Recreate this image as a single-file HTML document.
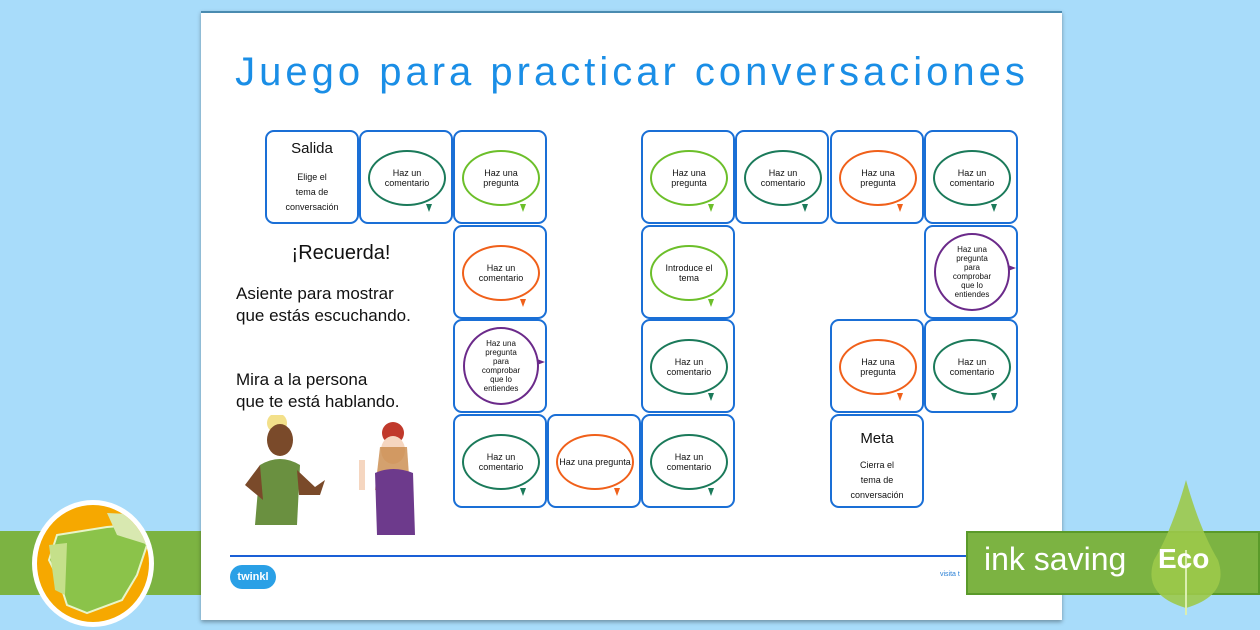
<!DOCTYPE html>
<html><head><meta charset="utf-8"><style>
*{margin:0;padding:0;box-sizing:border-box}
body{width:1260px;height:630px;background:#a8dcfa;position:relative;overflow:hidden;font-family:"Liberation Sans",sans-serif}
.band{position:absolute;left:0;top:531px;width:1260px;height:64px;background:#7cb342}
.paper{position:absolute;left:201px;top:11px;width:861px;height:609px;background:#fff;box-shadow:0 2px 4px rgba(0,0,0,.35);border-top:2px solid #4a8bb0}
.title{position:absolute;left:212px;top:50px;width:840px;text-align:center;color:#1a8ee6;font-size:40px;white-space:nowrap;letter-spacing:4px}
.cell{position:absolute;width:94px;height:94px;border:2px solid #1a6fd6;border-radius:9px;background:#fff}
.bub{position:absolute;left:7px;top:18px;width:78px;height:56px;border:2px solid;border-radius:50%;display:flex;align-items:center;justify-content:center;text-align:center;font-size:9px;line-height:10px;color:#111;background:#fff}
.bub::after{content:"";position:absolute;right:12px;bottom:-8px;width:0;height:0;border-left:3px solid transparent;border-right:3px solid transparent;border-top:8px solid;border-top-color:inherit}
.bub.tall{left:8px;top:6px;width:76px;height:78px;font-size:8px;line-height:9px}
.bub.tall::after{right:-8px;bottom:38px;border:none;border-top:3px solid transparent;border-bottom:3px solid transparent;border-left:8px solid;border-left-color:inherit}
.t{position:absolute;color:#111;text-align:center}
.dg{border-color:#1b7a5a}.lg{border-color:#6cbf2a}.or{border-color:#f0601a}.pu{border-color:#6b2a8a}
</style></head><body>
<div class="band"></div>
<div class="paper"></div>
<div class="title">Juego para practicar conversaciones</div>

<div class="cell" style="left:265px;top:130px"><div class="t" style="left:0;width:90px;top:8px;font-size:15px">Salida</div><div class="t" style="left:0;width:90px;top:38px;font-size:9px;line-height:15px">Elige el<br>tema de<br>conversación</div></div>
<div class="cell" style="left:359px;top:130px"><div class="bub dg">Haz un<br>comentario</div></div>
<div class="cell" style="left:453px;top:130px"><div class="bub lg">Haz una<br>pregunta</div></div>
<div class="cell" style="left:641px;top:130px"><div class="bub lg">Haz una<br>pregunta</div></div>
<div class="cell" style="left:735px;top:130px"><div class="bub dg">Haz un<br>comentario</div></div>
<div class="cell" style="left:830px;top:130px"><div class="bub or">Haz una<br>pregunta</div></div>
<div class="cell" style="left:924px;top:130px"><div class="bub dg">Haz un<br>comentario</div></div>
<div class="cell" style="left:453px;top:225px"><div class="bub or">Haz un<br>comentario</div></div>
<div class="cell" style="left:641px;top:225px"><div class="bub lg">Introduce el<br>tema</div></div>
<div class="cell" style="left:924px;top:225px"><div class="bub tall pu">Haz una<br>pregunta<br>para<br>comprobar<br>que lo<br>entiendes</div></div>
<div class="cell" style="left:453px;top:319px"><div class="bub tall pu">Haz una<br>pregunta<br>para<br>comprobar<br>que lo<br>entiendes</div></div>
<div class="cell" style="left:641px;top:319px"><div class="bub dg">Haz un<br>comentario</div></div>
<div class="cell" style="left:830px;top:319px"><div class="bub or">Haz una<br>pregunta</div></div>
<div class="cell" style="left:924px;top:319px"><div class="bub dg">Haz un<br>comentario</div></div>
<div class="cell" style="left:453px;top:414px"><div class="bub dg">Haz un<br>comentario</div></div>
<div class="cell" style="left:547px;top:414px"><div class="bub or">Haz una pregunta</div></div>
<div class="cell" style="left:641px;top:414px"><div class="bub dg">Haz un<br>comentario</div></div>
<div class="cell" style="left:830px;top:414px"><div class="t" style="left:0;width:90px;top:14px;font-size:15px">Meta</div><div class="t" style="left:0;width:90px;top:42px;font-size:9px;line-height:15px">Cierra el<br>tema de<br>conversación</div></div>

<div class="t" style="left:236px;top:242px;width:210px;font-size:20px">¡Recuerda!</div>
<div class="t" style="left:236px;top:283px;text-align:left;font-size:17px;line-height:22px">Asiente para mostrar<br>que estás escuchando.</div>
<div class="t" style="left:236px;top:369px;text-align:left;font-size:17px;line-height:22px">Mira a la persona<br>que te está hablando.</div>

<svg style="position:absolute;left:235px;top:415px" width="200" height="125">
<circle cx="42" cy="8" r="10" fill="#f3e08a"/><ellipse cx="45" cy="25" rx="13" ry="16" fill="#7a4a2a"/>
<path d="M25 50 Q45 38 65 50 L62 110 L20 110Z" fill="#6a9040"/>
<path d="M10 70 L25 50 L28 85 Z" fill="#7a4a2a"/><path d="M62 55 L80 72 L90 65 L85 80 L64 80Z" fill="#7a4a2a"/>
<circle cx="158" cy="18" r="11" fill="#c0392b"/><ellipse cx="158" cy="35" rx="12" ry="14" fill="#f5d6c0"/>
<path d="M145 32 L140 75 L175 75 L172 32Z" fill="#c98a4a" opacity=".8"/>
<path d="M140 58 Q158 50 178 58 L180 120 L142 120Z" fill="#6d3a8c"/>
<rect x="124" y="45" width="6" height="30" fill="#f5d6c0"/>
</svg>

<div style="position:absolute;left:230px;top:555px;width:740px;height:2px;background:#1a5fd6"></div>
<div style="position:absolute;left:230px;top:565px;width:46px;height:24px;border-radius:12px;background:#2aa0e6;color:#fff;font-size:11px;font-weight:bold;text-align:center;line-height:24px">twinkl</div>
<div style="position:absolute;left:940px;top:571px;font-size:7px;color:#2a80d6">visita t</div>

<div style="position:absolute;left:32px;top:500px;width:122px;height:127px;border-radius:50%;background:#fff"></div>
<div style="position:absolute;left:37px;top:505px;width:112px;height:117px;border-radius:50%;background:#f6a800;overflow:hidden">
<svg width="112" height="117"><path d="M20 30 L70 22 L95 20 L110 40 L100 70 L85 95 L50 108 L30 100 L22 75 L12 55Z" fill="#8bc34a" stroke="#e9f5c8" stroke-width="2"/><path d="M70 8 L112 10 L112 40 L80 30Z" fill="#d8e8b0"/><path d="M12 40 L30 38 L28 90 L18 85Z" fill="#c5e08a"/></svg>
</div>

<div style="position:absolute;left:966px;top:531px;width:294px;height:64px;background:#7cb342;border:2px solid #5a9a2a"></div>
<div style="position:absolute;left:984px;top:541px;color:#fff;font-size:32px">ink saving</div>
<svg style="position:absolute;left:1140px;top:480px" width="100" height="140"><path d="M46 0 Q60 50 78 80 Q90 115 46 128 Q2 115 14 80 Q32 50 46 0Z" fill="#9cc94a" opacity=".9"/><line x1="46" y1="70" x2="46" y2="135" stroke="#dbeeb0" stroke-width="2"/></svg>
<div style="position:absolute;left:1158px;top:543px;color:#fff;font-size:28px;font-weight:bold">Eco</div>
</body></html>
